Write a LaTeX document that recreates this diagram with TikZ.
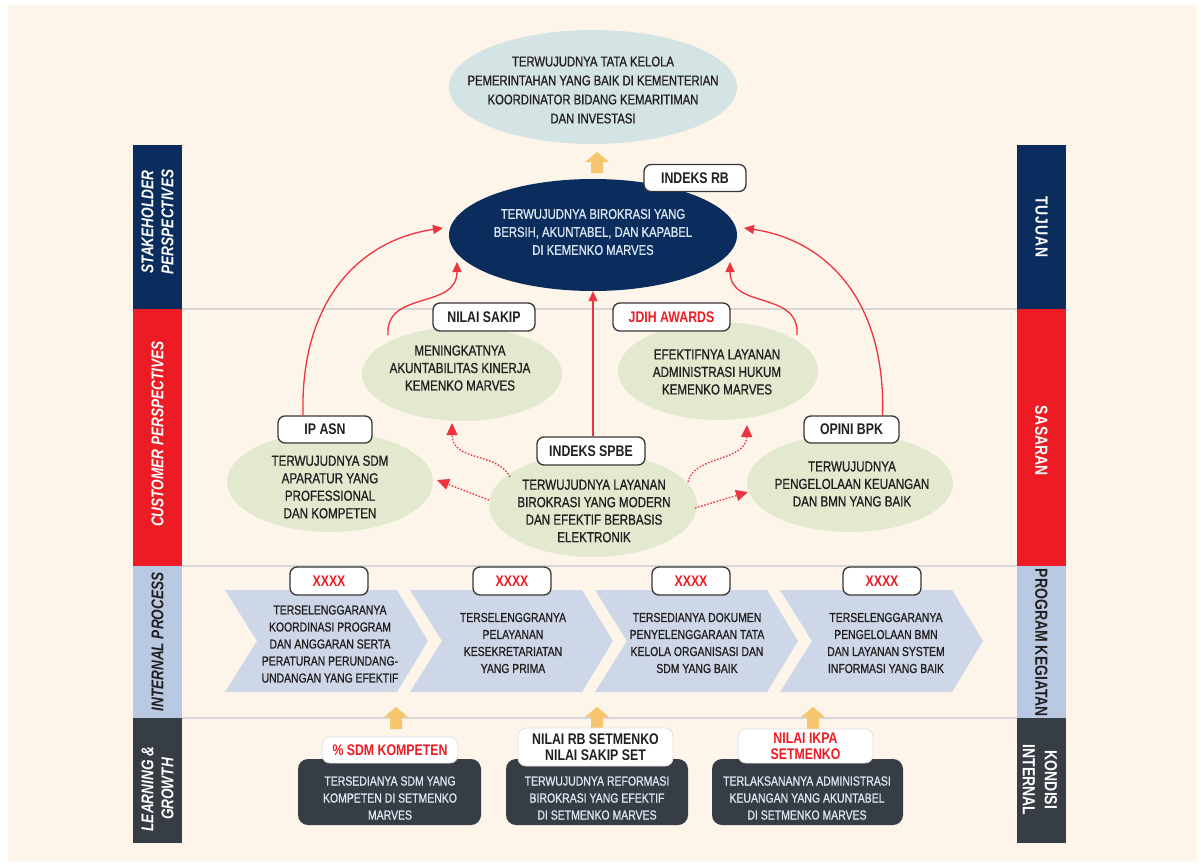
\documentclass[tikz,border=0pt]{standalone}
\usepackage{fontspec}
\setmainfont{Liberation Sans}[FakeStretch=0.8]
\newfontfamily\bodyf{Liberation Sans}[FakeStretch=0.8,FakeBold=0.9]
\usetikzlibrary{arrows.meta,calc,shapes.geometric}
\definecolor{bgc}{HTML}{FDF5E9}
\definecolor{navyc}{HTML}{0B2D5E}
\definecolor{redc}{HTML}{ED1C24}
\definecolor{arrred}{HTML}{EE3340}
\definecolor{lbluec}{HTML}{B9C9E2}
\definecolor{dgrayc}{HTML}{363D45}
\definecolor{chevc}{HTML}{CDD7E8}
\definecolor{greenc}{HTML}{E2E9CF}
\definecolor{topc}{HTML}{D4E3E3}
\definecolor{yelc}{HTML}{F6C56E}
\definecolor{linec}{HTML}{D6D6D6}
\definecolor{txtc}{HTML}{231F20}
\definecolor{lighttxt}{HTML}{DCE6F2}
\newcommand\yarrowshape[3]{\fill[yelc] (#1-12,#2+10) -- (#1,#2) -- (#1+12,#2+10) -- (#1+6,#2+10) -- (#1+6,#3) -- (#1-6,#3) -- (#1-6,#2+10) -- cycle;}
\newcommand\chevshape[1]{\fill[chevc] (#1,590) -- (#1+172,590) -- (#1+203,641) -- (#1+172,692) -- (#1,692) -- (#1+32,641) -- cycle;}
\begin{document}
\begin{tikzpicture}[x=1pt,y=-1pt,
  bandtxt/.style={align=center,font=\fontsize{17}{20}\selectfont\bfseries\itshape,inner sep=0pt},
  bandtxtr/.style={align=center,font=\fontsize{17.5}{22}\selectfont\bfseries,inner sep=0pt,rotate=-90},
  ell/.style={ellipse,inner sep=0pt},
  etxt/.style={align=center,text=txtc,inner sep=0pt,font=\bodyf\fontsize{14.5}{17.5}\selectfont},
  lbl/.style={draw=txtc!90,line width=1.3pt,fill=white,rounded corners=7pt,inner sep=0pt,font=\fontsize{15.4}{17}\selectfont\bfseries,text=txtc},
  blbl/.style={draw=black!12,line width=0.8pt,fill=white,rounded corners=8pt,inner sep=0pt,align=center,font=\fontsize{15.4}{16}\selectfont\bfseries,text=txtc},
  ctxt/.style={align=center,text=txtc,inner sep=0pt,font=\bodyf\fontsize{13}{17}\selectfont},
  btxt/.style={align=center,text=lighttxt,inner sep=0pt,font=\bodyf\fontsize{13.1}{17}\selectfont},
  dbox/.style={fill=dgrayc,rounded corners=10pt,inner sep=0pt},
  redarr/.style={draw=arrred,line width=1.3pt,-{Triangle[length=10pt,width=9pt]}},
  dotarr/.style={draw=arrred,line width=1.3pt,dash pattern=on 1.6pt off 1.6pt,-{Triangle[length=12pt,width=11pt]}}
]
\useasboundingbox (0,0) rectangle (1203,865);
\fill[white] (0,0) rectangle (1203,865);
\fill[bgc] (8,5) rectangle (1197,861);

% separator lines
\draw[linec,line width=1.5pt] (182,309) -- (1017,309);
\draw[linec,line width=1.5pt] (182,566) -- (1017,566);
\draw[linec,line width=1.5pt] (182,718) -- (1017,718);

% left band
\fill[navyc] (133,145) rectangle (182,309);
\fill[redc] (133,309) rectangle (182,566);
\fill[lbluec] (133,566) rectangle (182,718);
\fill[dgrayc] (133,718) rectangle (182,843);
\node[bandtxt,rotate=90,text=white] (bSH) at (157.5,222) {STAKEHOLDER\\PERSPECTIVES};
\node[bandtxt,rotate=90,text=white] (bCU) at (157.5,434) {CUSTOMER PERSPECTIVES};
\node[bandtxt,rotate=90,text=txtc] (bIP) at (157.5,642) {INTERNAL PROCESS};
\node[bandtxt,rotate=90,text=white] (bLG) at (157.5,789) {LEARNING \&\\GROWTH};

% right band
\fill[navyc] (1017,145) rectangle (1066,309);
\fill[redc] (1017,309) rectangle (1066,566);
\fill[lbluec] (1017,566) rectangle (1066,718);
\fill[dgrayc] (1017,718) rectangle (1066,843);
\node[bandtxtr,text=white] (rTU) at (1041.5,227) {T\kern1pt U\kern1pt J\kern1pt U\kern1pt A\kern1pt N};
\node[bandtxtr,text=white] (rSA) at (1041.5,441) {SA\kern1pt SARAN};
\node[bandtxtr,text=txtc] (rPK) at (1041.5,643) {PROGRAM KEGIATAN};
\node[bandtxtr,text=white] (rKI) at (1040,780) {KONDISI\\INTERNAL};

% top ellipse
\node[ell,fill=topc,minimum width=288pt,minimum height=114pt] (topE) at (593,87) {};
\node[etxt,font=\bodyf\fontsize{14.1}{19}\selectfont] (topT) at (593,90) {TERWUJUDNYA TATA KELOLA\\PEMERINTAHAN YANG BAIK DI KEMENTERIAN\\KOORDINATOR BIDANG KEMARITIMAN\\DAN INVESTASI};
\yarrowshape{597}{152}{173}

% navy ellipse
\node[ell,fill=navyc,minimum width=288pt,minimum height=112pt] (navy) at (593,235) {};
\node[etxt,text=lighttxt,font=\bodyf\fontsize{14.1}{18}\selectfont] (navyT) at (593,232) {TERWUJUDNYA BIROKRASI YANG\\BERSIH, AKUNTABEL, DAN KAPABEL\\DI KEMENKO MARVES};
\node[lbl,minimum width=102pt,minimum height=27pt] (rbL) at (695,178) {INDEKS RB};

% green ellipses
\node[ell,fill=greenc,minimum width=200pt,minimum height=94pt] (sakip) at (462,374) {};
\node[etxt] (sakipT) at (460,368) {MENINGKATNYA\\AKUNTABILITAS KINERJA\\KEMENKO MARVES};
\node[lbl,minimum width=102pt,minimum height=28pt] (sakipL) at (484,317) {NILAI SAKIP};

\node[ell,fill=greenc,minimum width=200pt,minimum height=98pt] (jdih) at (718,371) {};
\node[etxt] (jdihT) at (717,372) {EFEKTIFNYA LAYANAN\\ADMINISTRASI HUKUM\\KEMENKO MARVES};
\node[lbl,minimum width=117pt,minimum height=28pt,text=redc] (jdihL) at (671.5,317) {JDIH AWARDS};

\node[ell,fill=greenc,minimum width=206pt,minimum height=100pt] (ipasn) at (330,482) {};
\node[etxt] (ipasnT) at (330,487) {TERWUJUDNYA SDM\\APARATUR YANG\\PROFESSIONAL\\DAN KOMPETEN};
\node[lbl,minimum width=94pt,minimum height=27pt] (ipasnL) at (325,429.5) {IP ASN};

\node[ell,fill=greenc,minimum width=208pt,minimum height=104pt] (spbe) at (593,505) {};
\node[etxt] (spbeT) at (594,511) {TERWUJUDNYA LAYANAN\\BIROKRASI YANG MODERN\\DAN EFEKTIF BERBASIS\\ELEKTRONIK};
\node[lbl,minimum width=108pt,minimum height=28pt] (spbeL) at (591,451) {INDEKS SPBE};

\node[ell,fill=greenc,minimum width=206pt,minimum height=98pt] (opini) at (850,483) {};
\node[etxt] (opiniT) at (852,484) {TERWUJUDNYA\\PENGELOLAAN KEUANGAN\\DAN BMN YANG BAIK};
\node[lbl,minimum width=95pt,minimum height=27pt] (opiniL) at (851.5,429.5) {OPINI BPK};

% solid red arrows
\coordinate (eA) at (443,228);
\coordinate (sB) at (388,335);
\coordinate (eB) at (457,262);
\coordinate (sD) at (797,335);
\coordinate (eD) at (730,262);
\coordinate (eE) at (744,228);
\draw[redarr] ([xshift=-22pt]ipasnL.north) .. controls (300,300) and (360,240) .. (eA);
\draw[redarr] (sB) .. controls (385,290) and (457,310) .. (eB);
\draw[redarr] (navy.south |- spbeL.north) -- (navy.south);
\draw[redarr] (sD) .. controls (800,290) and (730,310) .. (eD);
\draw[redarr] ([xshift=31pt]opiniL.north) .. controls (886,300) and (826,240) .. (eE);

% dotted red arrows
\coordinate (dA1) at (489,500);
\coordinate (dA2) at (437,480);
\coordinate (dB1) at (510,477);
\coordinate (dB2) at (452,423);
\coordinate (dC1) at (688,482);
\coordinate (dC2) at (747,425);
\coordinate (dD1) at (695,508);
\coordinate (dD2) at (748,492);
\draw[dotarr] (dA1) -- (dA2);
\draw[dotarr] (dB1) .. controls (498,452) and (452,462) .. (dB2);
\draw[dotarr] (dC1) .. controls (694,455) and (746,462) .. (dC2);
\draw[dotarr] (dD1) -- (dD2);

% chevrons
\chevshape{225}
\chevshape{410}
\chevshape{595}
\chevshape{780}
\node[ctxt] (c1T) at (330,644) {TERSELENGGARANYA\\KOORDINASI PROGRAM\\DAN ANGGARAN SERTA\\PERATURAN PERUNDANG-\\UNDANGAN YANG EFEKTIF};
\node[ctxt] (c2T) at (513,643) {TERSELENGGRANYA\\PELAYANAN\\KESEKRETARIATAN\\YANG PRIMA};
\node[ctxt] (c3T) at (697,643) {TERSEDIANYA DOKUMEN\\PENYELENGGARAAN TATA\\KELOLA ORGANISASI DAN\\SDM YANG BAIK};
\node[ctxt] (c4T) at (886,643) {TERSELENGGARANYA\\PENGELOLAAN BMN\\DAN LAYANAN SYSTEM\\INFORMASI YANG BAIK};
\node[lbl,minimum width=78pt,minimum height=28pt,text=redc] (x1) at (329,581) {XXXX};
\node[lbl,minimum width=78pt,minimum height=28pt,text=redc] (x2) at (512,581) {XXXX};
\node[lbl,minimum width=78pt,minimum height=28pt,text=redc] (x3) at (691,581) {XXXX};
\node[lbl,minimum width=78pt,minimum height=28pt,text=redc] (x4) at (882,581) {XXXX};

% bottom
\yarrowshape{396}{707}{729}
\yarrowshape{597}{707}{729}
\yarrowshape{813}{707}{729}
\node[dbox,minimum width=183pt,minimum height=66pt] (b1) at (389.5,792) {};
\node[dbox,minimum width=182pt,minimum height=66pt] (b2) at (597,792) {};
\node[dbox,minimum width=191pt,minimum height=66pt] (b3) at (807.5,792) {};
\node[btxt] (b1T) at (390,798) {TERSEDIANYA SDM YANG\\KOMPETEN DI SETMENKO\\MARVES};
\node[btxt] (b2T) at (597,798) {TERWUJUDNYA REFORMASI\\BIROKRASI YANG EFEKTIF\\DI SETMENKO MARVES};
\node[btxt] (b3T) at (807,798) {TERLAKSANANYA ADMINISTRASI\\KEUANGAN YANG AKUNTABEL\\DI SETMENKO MARVES};
\node[blbl,minimum width=136pt,minimum height=26pt,text=redc] (b1L) at (390,750) {\% SDM KOMPETEN};
\node[blbl,minimum width=155pt,minimum height=38pt] (b2L) at (595.5,747) {NILAI RB SETMENKO\\NILAI SAKIP SET};
\node[blbl,minimum width=135pt,minimum height=34pt,text=redc] (b3L) at (805.5,746) {NILAI IKPA\\SETMENKO};
\end{tikzpicture}
\end{document}
